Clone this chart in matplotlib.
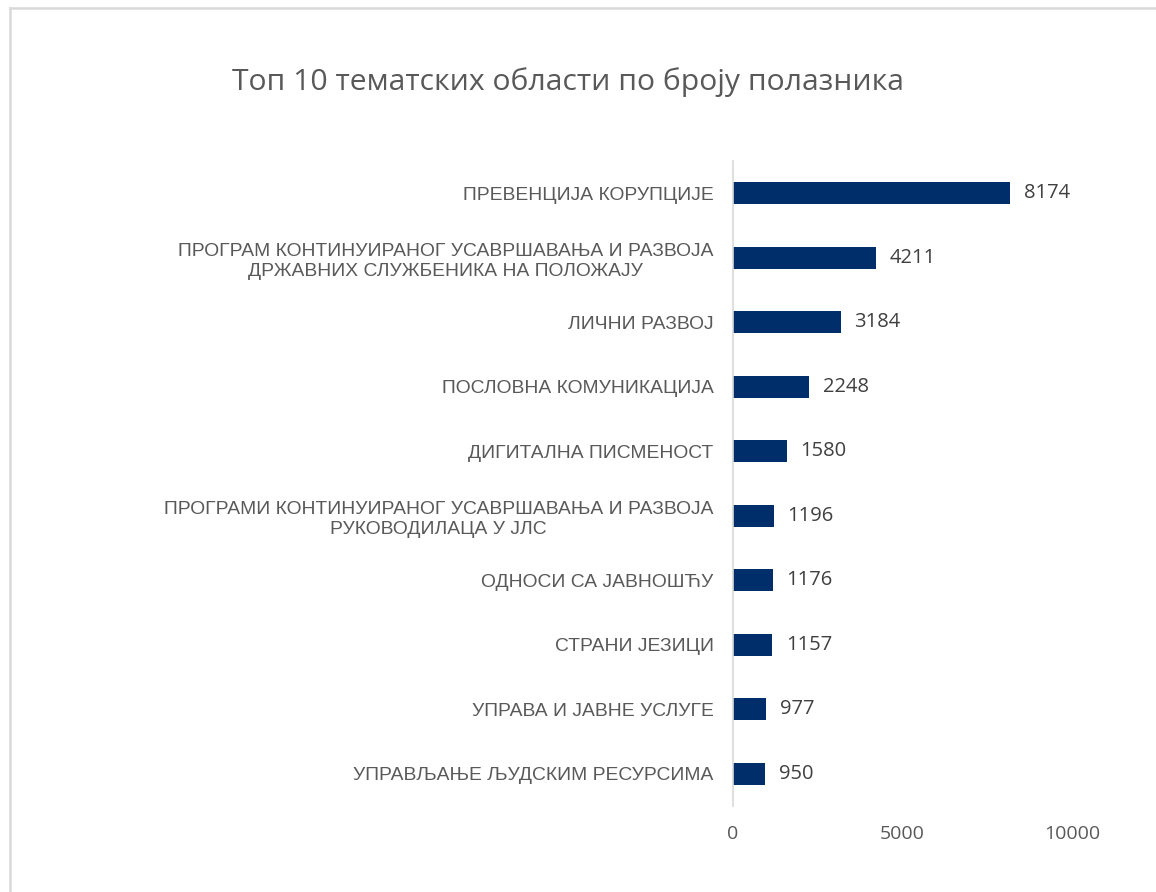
import numpy as np
import matplotlib
matplotlib.use('Agg')
import matplotlib.pyplot as plt
from matplotlib.lines import Line2D

categories = ['ПРЕВЕНЦИЈА КОРУПЦИЈЕ',
              'ПРОГРАМ КОНТИНУИРАНОГ УСАВРШАВАЊА И РАЗВОЈА\nДРЖАВНИХ СЛУЖБЕНИКА НА ПОЛОЖАЈУ',
              'ЛИЧНИ РАЗВОЈ',
              'ПОСЛОВНА КОМУНИКАЦИЈА',
              'ДИГИТАЛНА ПИСМЕНОСТ',
              'ПРОГРАМИ КОНТИНУИРАНОГ УСАВРШАВАЊА И РАЗВОЈА\nРУКОВОДИЛАЦА У ЈЛС',
              'ОДНОСИ СА ЈАВНОШЋУ',
              'СТРАНИ ЈЕЗИЦИ',
              'УПРАВА И ЈАВНЕ УСЛУГЕ',
              'УПРАВЉАЊЕ ЉУДСКИМ РЕСУРСИМА']
values = [8174, 4211, 3184, 2248, 1580, 1196, 1176, 1157, 977, 950]
xticks = [0, 5000, 10000]
title = 'Топ 10 тематских области по броју полазника'

plt.rcParams['font.family'] = ['Open Sans', 'DejaVu Sans']

W, H = 1156, 892
fig = plt.figure(figsize=(W/100, H/100), dpi=100)
ax = fig.add_axes([733/W, 1-806/H, (1072-733)/W, (806-161)/H])

y = np.arange(len(categories))
ax.barh(y, values, height=0.34, color='#002E6B')
ax.set_ylim(len(categories)-0.5, -0.5)
ax.set_xlim(0, 10000)

for yi, v in zip(y, values):
    ax.text(v + 400, yi, str(v), va='center', ha='left', fontsize=14.5, color='#404040')

ax.set_yticks(y)
ax.set_yticklabels(categories, fontsize=13.9, color='#595959', multialignment='center',
                   linespacing=1.25,
                   family=['Liberation Sans Narrow', 'Liberation Sans', 'DejaVu Sans'])
ax.tick_params(axis='y', length=0, pad=14)
ax.set_xticks(xticks)
ax.set_xticklabels([str(t) for t in xticks], fontsize=14, color='#595959')
ax.tick_params(axis='x', length=0, pad=14)

for s in ['top', 'right', 'bottom']:
    ax.spines[s].set_visible(False)
ax.spines['left'].set_color('#d9d9d9')
ax.spines['left'].set_linewidth(1.2)

fig.text(568/W, 1-82/H, title, ha='center', va='center', fontsize=21.7, color='#595959')

# chart frame (only left and top edges visible in the crop)
fig.add_artist(Line2D([10/W, 10/W], [0, 1-8/H], color='#d9d9d9', lw=1.8, transform=fig.transFigure))
fig.add_artist(Line2D([10/W, 1], [1-8/H, 1-8/H], color='#d9d9d9', lw=1.8, transform=fig.transFigure))

fig.savefig('out.png', dpi=100)
